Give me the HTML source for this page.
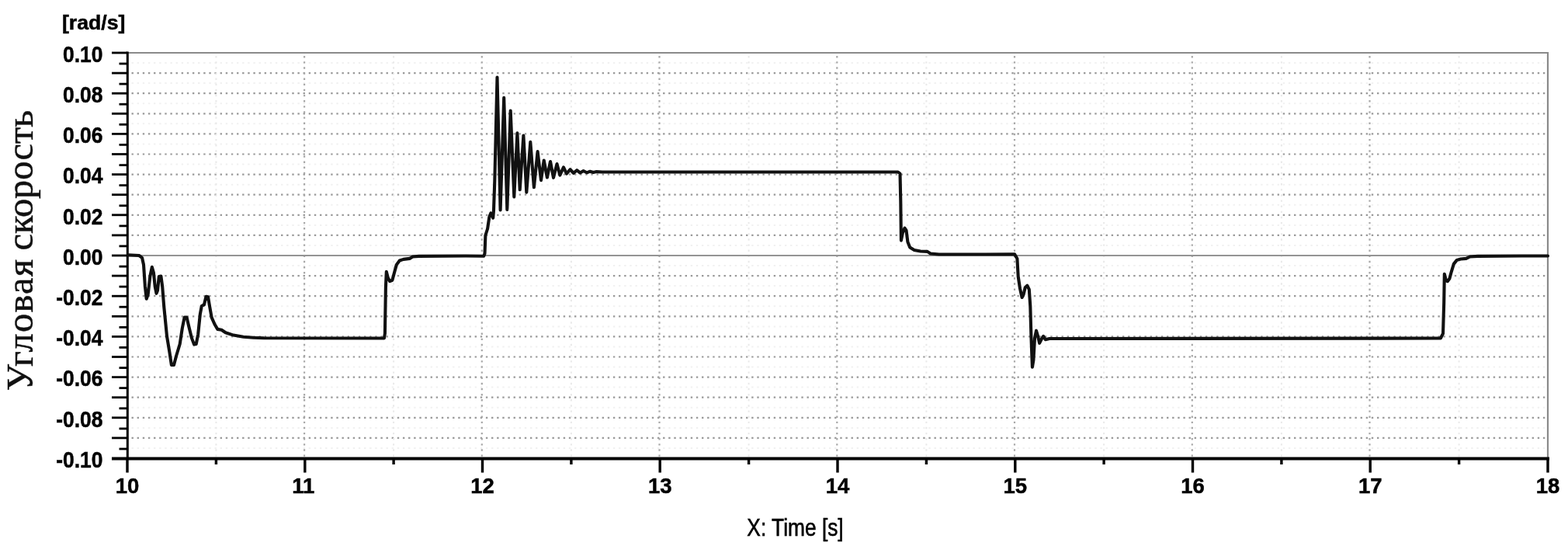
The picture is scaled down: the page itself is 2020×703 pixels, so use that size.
<!DOCTYPE html>
<html lang="ru"><head><meta charset="utf-8"><title>Угловая скорость</title>
<style>
html,body{margin:0;padding:0;background:#fff;}
body{width:2020px;height:703px;overflow:hidden;position:relative;font-family:"Liberation Sans",sans-serif;}
svg{position:absolute;left:0;top:0;display:block;}
.yl{font:bold 29px "Liberation Sans",sans-serif;fill:#000;stroke:#000;stroke-width:0.5px;text-anchor:end;}
.xl{font:bold 28.5px "Liberation Sans",sans-serif;fill:#000;stroke:#000;stroke-width:0.5px;text-anchor:middle;}
.unit{font:bold 26.7px "Liberation Sans",sans-serif;fill:#000;stroke:#000;stroke-width:0.5px;}
.xt{font:31px "Liberation Sans",sans-serif;fill:#000;stroke:#000;stroke-width:0.6px;text-anchor:middle;}
.yt{font:48.5px "Liberation Serif",serif;fill:#111;stroke:#111;stroke-width:0.45px;}
</style></head><body>
<svg width="2020" height="703" viewBox="0 0 2020 703">

<g stroke="#9a9a9a" stroke-width="2.2" stroke-dasharray="2.4 4.731" fill="none">
<line x1="169.5" y1="563.9" x2="1992" y2="563.9"/>
<line x1="169.5" y1="537.8" x2="1992" y2="537.8"/>
<line x1="169.5" y1="511.7" x2="1992" y2="511.7"/>
<line x1="169.5" y1="485.6" x2="1992" y2="485.6"/>
<line x1="169.5" y1="459.5" x2="1992" y2="459.5"/>
<line x1="169.5" y1="433.4" x2="1992" y2="433.4"/>
<line x1="169.5" y1="407.3" x2="1992" y2="407.3"/>
<line x1="169.5" y1="381.2" x2="1992" y2="381.2"/>
<line x1="169.5" y1="355.1" x2="1992" y2="355.1"/>
<line x1="169.5" y1="302.9" x2="1992" y2="302.9"/>
<line x1="169.5" y1="276.8" x2="1992" y2="276.8"/>
<line x1="169.5" y1="250.7" x2="1992" y2="250.7"/>
<line x1="169.5" y1="224.6" x2="1992" y2="224.6"/>
<line x1="169.5" y1="198.5" x2="1992" y2="198.5"/>
<line x1="169.5" y1="172.4" x2="1992" y2="172.4"/>
<line x1="169.5" y1="146.3" x2="1992" y2="146.3"/>
<line x1="169.5" y1="120.2" x2="1992" y2="120.2"/>
<line x1="169.5" y1="94.1" x2="1992" y2="94.1"/>
</g>
<g stroke="#f1f1f1" stroke-width="2" stroke-dasharray="2.4 4.731" fill="none">
<line x1="169.5" y1="577.0" x2="1992" y2="577.0"/>
<line x1="169.5" y1="550.9" x2="1992" y2="550.9"/>
<line x1="169.5" y1="524.8" x2="1992" y2="524.8"/>
<line x1="169.5" y1="498.6" x2="1992" y2="498.6"/>
<line x1="169.5" y1="472.6" x2="1992" y2="472.6"/>
<line x1="169.5" y1="446.5" x2="1992" y2="446.5"/>
<line x1="169.5" y1="420.4" x2="1992" y2="420.4"/>
<line x1="169.5" y1="394.2" x2="1992" y2="394.2"/>
<line x1="169.5" y1="368.1" x2="1992" y2="368.1"/>
<line x1="169.5" y1="342.1" x2="1992" y2="342.1"/>
<line x1="169.5" y1="315.9" x2="1992" y2="315.9"/>
<line x1="169.5" y1="289.9" x2="1992" y2="289.9"/>
<line x1="169.5" y1="263.8" x2="1992" y2="263.8"/>
<line x1="169.5" y1="237.7" x2="1992" y2="237.7"/>
<line x1="169.5" y1="211.6" x2="1992" y2="211.6"/>
<line x1="169.5" y1="185.4" x2="1992" y2="185.4"/>
<line x1="169.5" y1="159.3" x2="1992" y2="159.3"/>
<line x1="169.5" y1="133.2" x2="1992" y2="133.2"/>
<line x1="169.5" y1="107.1" x2="1992" y2="107.1"/>
<line x1="169.5" y1="81.0" x2="1992" y2="81.0"/>
</g>
<g stroke="#a8a8a8" stroke-width="2.2" stroke-dasharray="2.4 4.731" fill="none">
<line x1="392.1" y1="72" x2="392.1" y2="588"/>
<line x1="620.8" y1="72" x2="620.8" y2="588"/>
<line x1="849.5" y1="72" x2="849.5" y2="588"/>
<line x1="1078.3" y1="72" x2="1078.3" y2="588"/>
<line x1="1307.0" y1="72" x2="1307.0" y2="588"/>
<line x1="1535.8" y1="72" x2="1535.8" y2="588"/>
<line x1="1764.5" y1="72" x2="1764.5" y2="588"/>
</g>
<g stroke="#e9e9e9" stroke-width="2" stroke-dasharray="2.4 4.731" fill="none">
<line x1="278.4" y1="72" x2="278.4" y2="588"/>
<line x1="507.1" y1="72" x2="507.1" y2="588"/>
<line x1="735.9" y1="72" x2="735.9" y2="588"/>
<line x1="964.6" y1="72" x2="964.6" y2="588"/>
<line x1="1193.4" y1="72" x2="1193.4" y2="588"/>
<line x1="1422.1" y1="72" x2="1422.1" y2="588"/>
<line x1="1650.9" y1="72" x2="1650.9" y2="588"/>
<line x1="1879.6" y1="72" x2="1879.6" y2="588"/>
</g>
<g stroke="#808080" stroke-width="2.2" fill="none">
<path d="M165 68 H1994 V590" stroke="#8a8a8a"/>
<line x1="165" y1="329.0" x2="1994" y2="329.0" stroke="#949494" stroke-width="1.8"/>
</g>
<g stroke="#000" fill="none">
<line x1="164.3" y1="66.5" x2="164.3" y2="591.5" stroke-width="3"/>
<line x1="144" y1="590.4" x2="1996" y2="590.4" stroke-width="4"/>
<line x1="153.5" y1="578.0" x2="164" y2="578.0" stroke-width="2.8"/>
<line x1="144" y1="563.9" x2="164" y2="563.9" stroke-width="2.8"/>
<line x1="153.5" y1="551.9" x2="164" y2="551.9" stroke-width="2.8"/>
<line x1="144" y1="537.8" x2="164" y2="537.8" stroke-width="2.8"/>
<line x1="153.5" y1="525.8" x2="164" y2="525.8" stroke-width="2.8"/>
<line x1="144" y1="511.7" x2="164" y2="511.7" stroke-width="2.8"/>
<line x1="153.5" y1="499.6" x2="164" y2="499.6" stroke-width="2.8"/>
<line x1="144" y1="485.6" x2="164" y2="485.6" stroke-width="2.8"/>
<line x1="153.5" y1="473.6" x2="164" y2="473.6" stroke-width="2.8"/>
<line x1="144" y1="459.5" x2="164" y2="459.5" stroke-width="2.8"/>
<line x1="153.5" y1="447.4" x2="164" y2="447.4" stroke-width="2.8"/>
<line x1="144" y1="433.4" x2="164" y2="433.4" stroke-width="2.8"/>
<line x1="153.5" y1="421.4" x2="164" y2="421.4" stroke-width="2.8"/>
<line x1="144" y1="407.3" x2="164" y2="407.3" stroke-width="2.8"/>
<line x1="153.5" y1="395.2" x2="164" y2="395.2" stroke-width="2.8"/>
<line x1="144" y1="381.2" x2="164" y2="381.2" stroke-width="2.8"/>
<line x1="153.5" y1="369.1" x2="164" y2="369.1" stroke-width="2.8"/>
<line x1="144" y1="355.1" x2="164" y2="355.1" stroke-width="2.8"/>
<line x1="153.5" y1="343.1" x2="164" y2="343.1" stroke-width="2.8"/>
<line x1="144" y1="329.0" x2="164" y2="329.0" stroke-width="2.8"/>
<line x1="153.5" y1="316.9" x2="164" y2="316.9" stroke-width="2.8"/>
<line x1="144" y1="302.9" x2="164" y2="302.9" stroke-width="2.8"/>
<line x1="153.5" y1="290.9" x2="164" y2="290.9" stroke-width="2.8"/>
<line x1="144" y1="276.8" x2="164" y2="276.8" stroke-width="2.8"/>
<line x1="153.5" y1="264.8" x2="164" y2="264.8" stroke-width="2.8"/>
<line x1="144" y1="250.7" x2="164" y2="250.7" stroke-width="2.8"/>
<line x1="153.5" y1="238.6" x2="164" y2="238.6" stroke-width="2.8"/>
<line x1="144" y1="224.6" x2="164" y2="224.6" stroke-width="2.8"/>
<line x1="153.5" y1="212.6" x2="164" y2="212.6" stroke-width="2.8"/>
<line x1="144" y1="198.5" x2="164" y2="198.5" stroke-width="2.8"/>
<line x1="153.5" y1="186.4" x2="164" y2="186.4" stroke-width="2.8"/>
<line x1="144" y1="172.4" x2="164" y2="172.4" stroke-width="2.8"/>
<line x1="153.5" y1="160.3" x2="164" y2="160.3" stroke-width="2.8"/>
<line x1="144" y1="146.3" x2="164" y2="146.3" stroke-width="2.8"/>
<line x1="153.5" y1="134.2" x2="164" y2="134.2" stroke-width="2.8"/>
<line x1="144" y1="120.2" x2="164" y2="120.2" stroke-width="2.8"/>
<line x1="153.5" y1="108.1" x2="164" y2="108.1" stroke-width="2.8"/>
<line x1="144" y1="94.1" x2="164" y2="94.1" stroke-width="2.8"/>
<line x1="153.5" y1="82.0" x2="164" y2="82.0" stroke-width="2.8"/>
<line x1="144" y1="68.0" x2="164" y2="68.0" stroke-width="2.8"/>
<line x1="164.0" y1="590" x2="164.0" y2="608.5" stroke-width="3.4"/>
<line x1="278.4" y1="590" x2="278.4" y2="598" stroke-width="3.4"/>
<line x1="392.8" y1="590" x2="392.8" y2="608.5" stroke-width="3.4"/>
<line x1="507.1" y1="590" x2="507.1" y2="598" stroke-width="3.4"/>
<line x1="621.5" y1="590" x2="621.5" y2="608.5" stroke-width="3.4"/>
<line x1="735.9" y1="590" x2="735.9" y2="598" stroke-width="3.4"/>
<line x1="850.2" y1="590" x2="850.2" y2="608.5" stroke-width="3.4"/>
<line x1="964.6" y1="590" x2="964.6" y2="598" stroke-width="3.4"/>
<line x1="1079.0" y1="590" x2="1079.0" y2="608.5" stroke-width="3.4"/>
<line x1="1193.4" y1="590" x2="1193.4" y2="598" stroke-width="3.4"/>
<line x1="1307.8" y1="590" x2="1307.8" y2="608.5" stroke-width="3.4"/>
<line x1="1422.1" y1="590" x2="1422.1" y2="598" stroke-width="3.4"/>
<line x1="1536.5" y1="590" x2="1536.5" y2="608.5" stroke-width="3.4"/>
<line x1="1650.9" y1="590" x2="1650.9" y2="598" stroke-width="3.4"/>
<line x1="1765.2" y1="590" x2="1765.2" y2="608.5" stroke-width="3.4"/>
<line x1="1879.6" y1="590" x2="1879.6" y2="598" stroke-width="3.4"/>
<line x1="1994.0" y1="590" x2="1994.0" y2="608.5" stroke-width="3.4"/>
</g>
<polyline points="165.1,328.4 179.2,329.0 183.0,331.8 185.0,340.7 186.9,368.9 188.7,384.8 190.7,379.0 193.3,356.0 195.8,343.8 197.9,351.0 199.7,368.9 201.5,377.8 203.0,374.0 204.8,356.0 207.4,355.6 209.2,368.9 211.2,394.5 215.0,432.9 218.4,453.4 220.9,470.0 224.0,470.0 227.0,458.5 231.7,443.0 234.8,422.6 237.6,408.6 240.6,408.6 243.2,420.0 247.0,435.4 250.1,443.6 252.7,443.0 255.2,430.3 257.8,404.7 259.8,394.0 262.9,392.4 265.5,381.7 268.0,382.2 270.1,394.5 272.6,408.6 276.5,417.5 280.3,423.9 285.4,424.7 290.6,428.3 300.8,431.6 313.6,433.7 326.4,434.7 340.0,435.2 494.9,435.5 495.9,429.5 496.9,369.8 497.8,349.8 499.8,357.8 502.2,362.2 505.4,360.8 507.8,351.8 510.8,340.9 514.8,335.5 519.8,333.9 527.7,332.9 531.7,330.5 539.7,329.9 600.0,329.5 623.2,329.7 624.5,326.5 625.4,303.0 628.1,294.5 630.3,279.6 632.4,274.3 635.2,280.7 636.0,271.0 637.3,232.7 640.5,99.6 644.6,270.5 649.2,125.8 653.3,269.9 657.7,142.5 662.3,253.5 666.4,171.3 669.7,244.3 674.4,174.5 678.3,247.7 683.3,182.8 687.9,241.3 692.6,195.1 697.0,232.1 700.7,206.5 704.9,228.5 709.0,208.0 713.0,228.8 717.5,211.0 721.3,225.6 726.0,215.4 729.9,223.6 734.6,218.2 738.8,222.9 743.1,219.2 747.4,222.5 751.6,220.0 755.9,222.3 760.2,220.7 764.3,222.0 768.5,221.1 776.0,221.5 1156.9,221.5 1159.5,223.5 1160.3,259.8 1160.9,309.6 1162.9,299.6 1165.5,293.6 1167.5,296.6 1169.4,311.6 1172.2,318.5 1177.8,321.9 1185.8,323.5 1194.7,323.9 1198.7,326.5 1209.7,327.5 1307.1,327.4 1310.4,333.0 1311.7,356.1 1314.0,371.4 1316.6,383.0 1318.6,379.1 1320.7,370.2 1323.3,367.6 1325.8,372.7 1327.3,394.5 1328.4,432.9 1329.9,472.6 1331.4,463.6 1333.0,435.4 1335.0,425.7 1337.1,432.9 1339.1,441.8 1341.7,436.7 1344.2,432.9 1346.8,437.2 1351.9,436.0 1855.9,435.5 1859.0,429.5 1860.2,389.7 1860.8,352.8 1862.8,360.8 1864.8,362.2 1867.4,358.8 1869.8,349.8 1872.8,339.9 1876.8,334.9 1881.8,333.5 1888.7,332.9 1893.7,330.5 1903.7,329.9 1960.0,329.5 1994.0,329.5" fill="none" stroke="#111" stroke-width="4.1" stroke-linejoin="round" stroke-linecap="round"/>
<text class="yl" transform="translate(132.5 601.7) scale(0.913 1)">-0.10</text>
<text class="yl" transform="translate(132.5 549.5) scale(0.913 1)">-0.08</text>
<text class="yl" transform="translate(132.5 497.3) scale(0.913 1)">-0.06</text>
<text class="yl" transform="translate(132.5 445.1) scale(0.913 1)">-0.04</text>
<text class="yl" transform="translate(132.5 392.9) scale(0.913 1)">-0.02</text>
<text class="yl" transform="translate(132.5 340.7) scale(0.913 1)">0.00</text>
<text class="yl" transform="translate(132.5 288.5) scale(0.913 1)">0.02</text>
<text class="yl" transform="translate(132.5 236.3) scale(0.913 1)">0.04</text>
<text class="yl" transform="translate(132.5 184.1) scale(0.913 1)">0.06</text>
<text class="yl" transform="translate(132.5 131.9) scale(0.913 1)">0.08</text>
<text class="yl" transform="translate(132.5 79.7) scale(0.913 1)">0.10</text>
<text class="xl" transform="translate(164.0 634.9) scale(0.965 1)">10</text>
<text class="xl" transform="translate(390.8 634.9) scale(0.965 1)">11</text>
<text class="xl" transform="translate(621.5 634.9) scale(0.965 1)">12</text>
<text class="xl" transform="translate(850.2 634.9) scale(0.965 1)">13</text>
<text class="xl" transform="translate(1079.0 634.9) scale(0.965 1)">14</text>
<text class="xl" transform="translate(1307.8 634.9) scale(0.965 1)">15</text>
<text class="xl" transform="translate(1536.5 634.9) scale(0.965 1)">16</text>
<text class="xl" transform="translate(1765.2 634.9) scale(0.965 1)">17</text>
<text class="xl" transform="translate(1994.0 634.9) scale(0.965 1)">18</text>
<text class="unit" x="79.9" y="38.2">[rad/s]</text>
<text class="xt" transform="translate(1024.5 689.5) scale(0.85 1)">X: Time [s]</text>
<text class="yt" transform="translate(41.6 0) rotate(-90)"><tspan x="-503.3" y="0" letter-spacing="1.2">Угловая </tspan><tspan x="-322.5" y="0" letter-spacing="-0.1">скорость</tspan></text>
</svg>
</body></html>
